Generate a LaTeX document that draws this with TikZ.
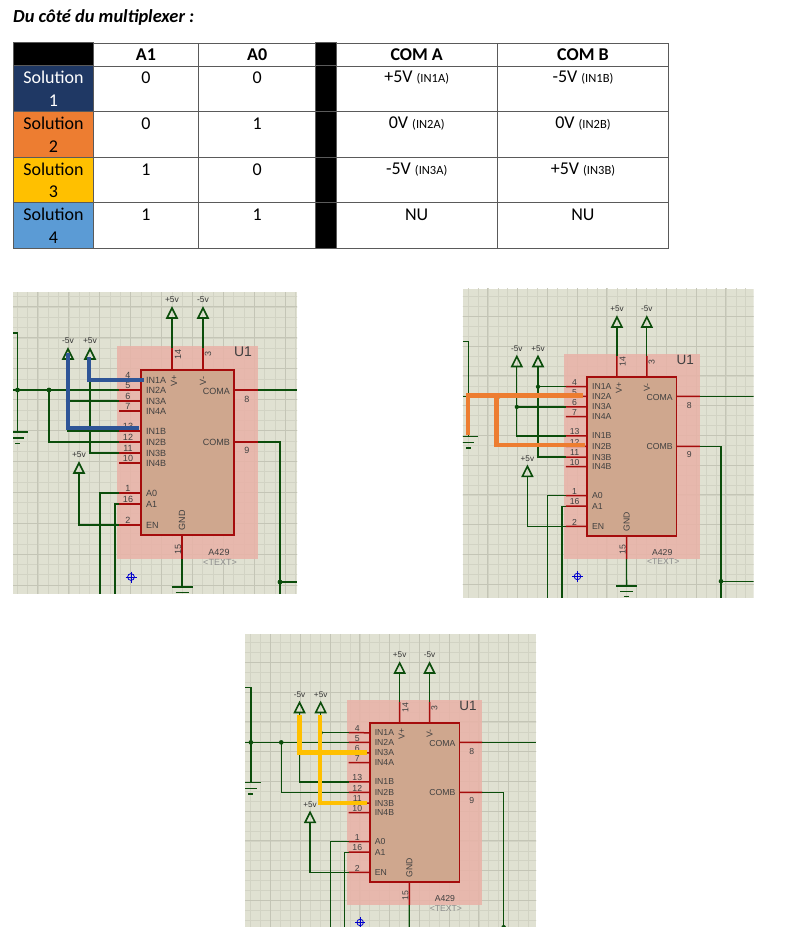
\documentclass[tikz,border=0pt]{standalone}
\usepackage{fontspec}
\setmainfont{Carlito}
\newfontfamily\chipfont{Liberation Sans}
\usepackage{tikz}
\usetikzlibrary{positioning, calc}

\definecolor{tableline}{HTML}{5A5A5A}
\definecolor{solone}{HTML}{1F3864}
\definecolor{soltwo}{HTML}{ED7D31}
\definecolor{solthree}{HTML}{FFC000}
\definecolor{solfour}{HTML}{5B9BD5}
\definecolor{sheetbg}{HTML}{E0E1D2}
\definecolor{gridthin}{HTML}{D2D3C4}
\definecolor{gridthick}{HTML}{C4C5B6}
\definecolor{chipfill}{HTML}{CFA78E}
\definecolor{pinred}{HTML}{A50C0C}
\definecolor{pinkzone}{HTML}{E8B3A8}
\definecolor{wiregreen}{HTML}{0B4D0B}
\definecolor{markblue}{HTML}{2F5597}

\tikzset{
	tablecell/.style={draw=tableline, line width=.9pt, inner sep=0pt, anchor=north west},
	headtext/.style={font=\fontsize{18}{20}\selectfont\bfseries, inner sep=0pt},
	valuetext/.style={font=\fontsize{18}{20}\selectfont, inner sep=0pt},
	soltext/.style={font=\fontsize{18}{22.5}\selectfont, inner sep=0pt, align=center},
	gridminor/.style={draw=gridthin, line width=.5pt},
	gridmajor/.style={draw=gridthick, line width=.9pt},
	wire/.style={draw=wiregreen, line width=1.3pt},
	pinline/.style={draw=pinred, line width=1.5pt},
	chiptext/.style={font=\fontsize{9}{9}\selectfont\chipfont, text=black!75, inner sep=0pt, transform shape},
	supplytext/.style={font=\fontsize{8.5}{8}\selectfont\chipfont, text=black!80, inner sep=0pt, transform shape},
	marker/.style={line width=4.4pt, line join=miter},
	supply/.pic={\draw[wire, line width=1.6pt] (-5,0) -- (0,-10) -- (5,0) -- cycle;},
}

\newcommand{\inref}[1]{{\fontsize{12.5}{13}\selectfont (#1)}}

% #1 name, #2 #3 corner of the pink area, #4 scale, #5-#8 sheet edges, #9 marked wires
\newcommand{\muxsheet}[9]{
	\begin{scope}[name prefix=#1-, shift={(#2,#3)}, scale=#4, shift={(-117,-346)}]
		\coordinate (sheetnw) at (#5,#7);
		\coordinate (sheetse) at (#6,#8);
		\clip (sheetnw) rectangle (sheetse);
		\fill[sheetbg] (sheetnw) rectangle (sheetse);
		\foreach \gridname/\gridstep in {gridminor/10.3, gridmajor/30.9}{
			\foreach \gridn in {0,...,30}{
				\draw[\gridname] ({7+\gridn*\gridstep},270) -- ({7+\gridn*\gridstep},610);
				\draw[\gridname] (0,{276+\gridn*\gridstep}) -- (320,{276+\gridn*\gridstep});
			}
		}
		\fill[pinkzone, opacity=.88] (117,346) rectangle (258,559);
		\filldraw[fill=chipfill, pinline] (141,370) rectangle (234,535);

		% pins of the left side
		\foreach \pinnum/\piny/\pinname in {4/380/IN1A, 5/390/IN2A, 6/401/IN3A, 7/411/IN4A,
			13/431/IN1B, 12/442/IN2B, 11/453/IN3B, 10/463/IN4B, 1/493/A0, 16/504/A1, 2/525/EN}{
			\coordinate (pin\pinnum) at (119,\piny);
			\draw[pinline] (pin\pinnum) -- (141,\piny);
			\node[chiptext, anchor=west] (name\pinnum) at (146,\piny) {\pinname};
			\node[chiptext, anchor=south] (num\pinnum) at (128,\piny-1) {\pinnum};
		}
		% pins of the other sides
		\coordinate (pin8) at (258,390);
		\coordinate (pin9) at (258,442);
		\coordinate (pin14) at (172,348);
		\coordinate (pin3) at (203,348);
		\coordinate (pin15) at (182,559);
		\draw[pinline] (234,390) -- (pin8);
		\draw[pinline] (234,442) -- (pin9);
		\draw[pinline] (172,370) -- (pin14);
		\draw[pinline] (203,370) -- (pin3);
		\draw[pinline] (182,535) -- (pin15);
		\node[chiptext, anchor=south] (num8) at (247,403) {8};
		\node[chiptext, anchor=south] (num9) at (247,454) {9};
		\node[chiptext, rotate=90] (num14) at (178,354) {14};
		\node[chiptext, rotate=90] (num3) at (208,354) {3};
		\node[chiptext, rotate=90] (num15) at (178,549) {15};
		\node[chiptext, anchor=east] (coma) at (230,391) {COMA};
		\node[chiptext, anchor=east] (comb) at (230,442) {COMB};
		\node[chiptext, rotate=90] (vplus) at (174,381) {V+};
		\node[chiptext, rotate=90] (vminus) at (203,381) {V-};
		\node[chiptext, rotate=90] (gnd) at (182,520) {GND};
		\node[chiptext, font=\fontsize{14}{14}\selectfont\chipfont] (uone) at (243,352) {U1};
		\node[chiptext] (parttext) at (219,552) {A429};
		\node[chiptext, text=black!45] (freetext) at (220,562) {<TEXT>};

		% supplies
		\coordinate (topplus) at (172,318);
		\coordinate (topminus) at (203,318);
		\coordinate (leftminus) at (68,359);
		\coordinate (leftplus) at (90,359);
		\coordinate (enplus) at (79,473);
		\foreach \supname/\suptext in {topplus/+5v, topminus/-5v, leftminus/-5v, leftplus/+5v, enplus/+5v}{
			\pic at (\supname) {supply};
			\node[supplytext, above=15.5pt of \supname] (\supname-text) {\suptext};
		}
		\draw[wire] (pin14) -- (topplus);
		\draw[wire] (pin3) -- (topminus);
		\draw[wire] (leftminus) |- (pin13);
		\draw[wire] (leftminus |- pin6) -- (pin6);
		\draw[wire] (leftplus) |- (pin11);
		\draw[wire] (leftplus |- pin4) -- (pin4);
		\draw[wire] (enplus) |- (pin2);
		\fill[wiregreen] (leftminus |- pin6) circle (2.2pt);
		\fill[wiregreen] (leftplus |- pin4) circle (2.2pt);

		% left net with its ground
		\coordinate (gndleft) at (17.5,390);
		\coordinate (netleft) at (49,390);
		\draw[wire] (pin5) -- (sheetnw |- pin5);
		\draw[wire] (sheetnw |- 0,333) -- (17.5,333) -- (17.5,432);
		\draw[wire] (netleft) |- (pin12);
		\fill[wiregreen] (gndleft) circle (2.4pt);
		\fill[wiregreen] (netleft) circle (2.4pt);
		\draw[wire] (7,432) -- (28,432);
		\draw[wire] (11,438) -- (24,438);
		\draw[wire] (15,443.5) -- (20,443.5);

		% address lines
		\draw[wire] (pin1) -| (100,#8);
		\draw[wire] (pin16) -| (115,#8);

		% outputs and ground
		\coordinate (outnet) at (280,582);
		\draw[wire] (pin8) -- (pin8 -| sheetse);
		\draw[wire] (pin9) -| (280,#8);
		\draw[wire] (outnet) -- (outnet -| sheetse);
		\fill[wiregreen] (outnet) circle (2.4pt);
		\draw[wire] (pin15) -- (182,587);
		\draw[wire] (171.5,587) -- (192.5,587);
		\draw[wire] (175.5,592.5) -- (188.5,592.5);
		\draw[wire] (179.5,598) -- (184.5,598);

		% origin mark
		\draw[blue!80!black, line width=.8pt] (131,577) circle (3.4pt);
		\draw[blue!80!black, line width=.8pt] (125.5,577) -- (136.5,577);
		\draw[blue!80!black, line width=.8pt] (131,571.5) -- (131,582.5);

		#9
	\end{scope}
}

\begin{document}
\begin{tikzpicture}[x=1pt, y=-1pt]
	\useasboundingbox (0,0) rectangle (810,927);
	\fill[white] (0,0) rectangle (810,927);

	\node[anchor=west, inner sep=0pt, font=\fontsize{18.4}{20}\selectfont\bfseries\itshape] (title) at (13,17) {Du côté du multiplexer :};

	% table
	\foreach \colname/\colx/\colw in {lab/13/80, aone/93/105, azero/198/117.5, gap/315.5/20, coma/335.5/161.5, comb/497/171}{
		\foreach \rowname/\rowy/\rowh in {head/42.7/22.8, one/65.5/45.8, two/111.3/45.7, three/157/45.3, four/202.3/45.7}{
			\node[tablecell, minimum width=\colw pt, minimum height=\rowh pt] (\colname-\rowname) at (\colx,\rowy) {};
		}
	}
	\foreach \cellname/\cellcol in {lab-head/black, gap-head/black, gap-one/black, gap-two/black, gap-three/black, gap-four/black,
		lab-one/solone, lab-two/soltwo, lab-three/solthree, lab-four/solfour}{
		\filldraw[fill=\cellcol, draw=tableline, line width=.9pt] (\cellname.north west) rectangle (\cellname.south east);
	}
	\foreach \cellname/\celltext in {aone-head/A1, azero-head/A0, coma-head/COM A, comb-head/COM B}{
		\node[headtext] (\cellname-text) at (\cellname.center) {\celltext};
	}
	\foreach \cellname/\celltext/\celltint in {lab-one/1/white, lab-two/2/black, lab-three/3/black, lab-four/4/black}{
		\node[soltext, text=\celltint] (\cellname-text) at (\cellname.center) {Solution\\\celltext};
	}
	\foreach \cellname/\celltext in {aone-one/0, azero-one/0, aone-two/0, azero-two/1, aone-three/1, azero-three/0, aone-four/1, azero-four/1,
		coma-one/{+5V \inref{IN1A}}, comb-one/{-5V \inref{IN1B}}, coma-two/{0V \inref{IN2A}}, comb-two/{0V \inref{IN2B}},
		coma-three/{-5V \inref{IN3A}}, comb-three/{+5V \inref{IN3B}}, coma-four/NU, comb-four/NU}{
		\node[valuetext] (\cellname-text) at ([yshift=-12.5pt]\cellname.north) {\celltext};
	}

	% the three captures
	\muxsheet{solA}{117}{346}{1}{13}{297}{292}{593.5}{
		\draw[marker, markblue] (68,353) -- (68,428) -- (139,428);
		\draw[marker, markblue] (88.7,357) -- (88.7,380) -- (144,380);
	}
	\muxsheet{solB}{564}{354}{.963}{12.1}{314}{278.5}{599}{
		\draw[marker, soltwo] (17,430) -- (17,389) -- (136.4,389);
		\draw[marker, soltwo] (47,389) -- (47,440.5) -- (139,440.5);
	}
	\muxsheet{solC}{346.7}{700}{.963}{11.4}{313.6}{277.5}{581.7}{
		\draw[marker, solthree] (67.8,361.6) -- (67.8,400.5) -- (138.4,400.5);
		\draw[marker, solthree] (89.3,361.6) -- (89.3,453) -- (138,453);
	}
\end{tikzpicture}
\end{document}
